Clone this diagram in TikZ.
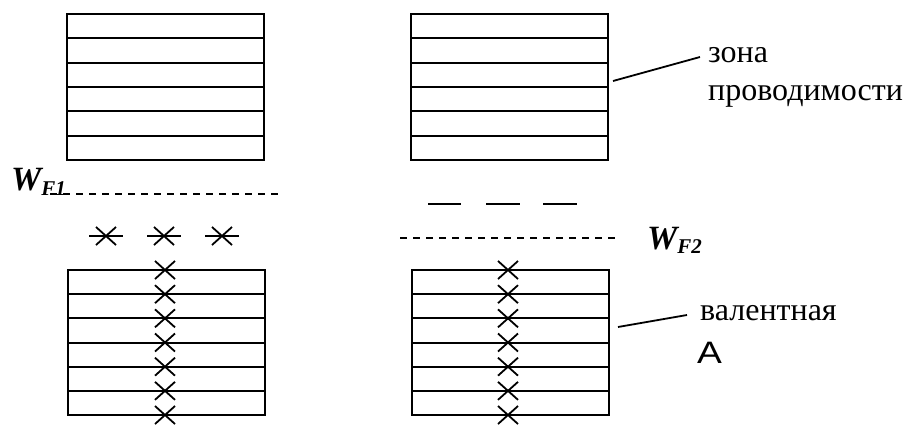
\documentclass[tikz,border=0pt]{standalone}
\usepackage{fontspec}
\setmainfont{Liberation Serif}
\newfontfamily\sansA{Liberation Sans}
\tikzset{
  band/.style={line width=2pt},
  lvl/.style={line width=1.5pt, dash pattern=on 7pt off 6pt},
  crs/.style={line width=1.8pt},
  lead/.style={line width=1.8pt},
  lbl/.style={inner sep=0pt, anchor=base west, font=\fontsize{32}{32}\selectfont},
  wlbl/.style={inner sep=0pt, anchor=base west, font=\fontsize{34}{34}\selectfont\bfseries\itshape}
}
\newcommand{\bandbox}[4]{% x1 y1 x2 y2
  \draw[band] (#1,#2) rectangle (#3,#4);
  \foreach \k in {1,...,5} {\draw[band] (#1,{#2+\k*(#4-#2)/6}) -- (#3,{#2+\k*(#4-#2)/6});}
}
\newcommand{\xmark}[2]{\draw[crs] (#1-10,#2-9) -- (#1+10,#2+9) (#1-10,#2+9) -- (#1+10,#2-9);}
\begin{document}
\begin{tikzpicture}[x=1pt,y=-1pt]
\useasboundingbox (0,0) rectangle (908,424);
% bands
\bandbox{67}{14}{264}{160}
\bandbox{411}{14}{608}{160}
\bandbox{68}{270}{265}{415}
\bandbox{412}{270}{609}{415}
% crosses in valence bands
\foreach \k in {0,...,6} {
  \xmark{165}{270+\k*24.17}
  \xmark{508}{270+\k*24.17}
}
% Fermi levels
\draw[lvl] (50,194) -- (278,194);
\draw[lvl] (400,238) -- (618,238);
% acceptor-like crosses with bars
\foreach \cx in {106,164,222} {
  \xmark{\cx}{236}
  \draw[crs] (\cx-17,236) -- (\cx+17,236);
}
% donor-like short levels
\foreach \a/\b in {428/461,486/520,543/577} {
  \draw[crs] (\a,204) -- (\b,204);
}
% labels
\node[wlbl] (wf1) at (11,190) {W\raisebox{-5pt}{\fontsize{21}{21}\selectfont F1}};
\node[wlbl] (wf2) at (647,249) {W\raisebox{-4pt}{\fontsize{21}{21}\selectfont F2}};
\node[lbl] (zona) at (708,62) {зона};
\node[lbl] (prov) at (708,100) {проводимости};
\node[lbl] (val) at (700,320) {валентная};
\node[inner sep=0pt, anchor=base west] (aa) at (697,363) {\scalebox{1.2}[1]{\sansA\fontsize{31}{31}\selectfont A}};
% leaders
\coordinate (c1) at (613,81);
\coordinate (c1e) at (700,57);
\coordinate (c2) at (618,327);
\coordinate (c2e) at (687,315);
\draw[lead] (c1) -- (c1e);
\draw[lead] (c2) -- (c2e);
\end{tikzpicture}
\end{document}
